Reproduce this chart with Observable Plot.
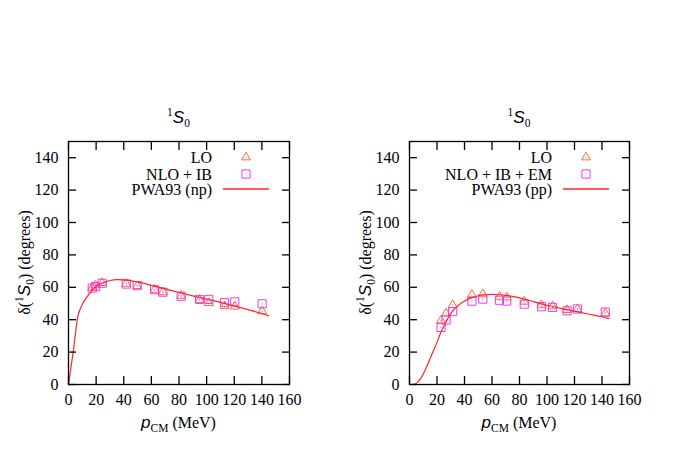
<!DOCTYPE html>
<html><head><meta charset="utf-8">
<script src="https://cdn.jsdelivr.net/npm/d3@7"></script>
<script src="https://cdn.jsdelivr.net/npm/@observablehq/plot@0.6"></script>
<style>
body{margin:0;background:#fff;}
#wrap{display:flex;width:677px;height:474px;}
#wrap svg{display:block;}
</style></head><body><div id="wrap"></div>
<script>
// ---- tick labels ----
const xTicks = [0, 20, 40, 60, 80, 100, 120, 140, 160];
const yTicks = [0, 20, 40, 60, 80, 100, 120, 140];

// ---- left panel (np) ----
const npX   = [17.2, 19.6, 24.4, 41.8, 49.7, 62.3, 68.3, 81.6, 94.9, 101.6, 113.0, 120.4, 140.2];
const npLO  = [59.8, 61.3, 62.7, 62.2, 60.8, 58.5, 57.0, 54.8, 52.3, 50.3, 48.4, 48.2, 45.2];
const npNLO = [59.5, 60.5, 62.5, 62.0, 61.0, 58.5, 57.0, 54.5, 52.5, 52.5, 50.5, 51.0, 49.8];
const npCurveX = [0, 2, 3.4, 5, 6.3, 8, 10, 12.5, 15, 20, 25, 30, 35, 40, 50, 60, 70, 80, 90, 100, 110, 120, 130, 140, 145];
const npCurveY = [0, 12, 20, 31, 40, 45.5, 49.5, 53, 56, 60.5, 62.8, 64.2, 64.7, 64.6, 63.3, 61.2, 59, 56.8, 54.7, 52.7, 50.7, 48.5, 46.2, 43.8, 42.4];
const npLabels = ["LO", "NLO + IB", "PWA93 (np)"];

// ---- right panel (pp) ----
const ppX   = [22.9, 26.6, 31.4, 45.4, 53.3, 65.4, 70.7, 83.5, 96.0, 104.0, 114.6, 122.1, 142.4];
const ppLO  = [39.5, 44.0, 49.0, 55.4, 55.7, 54.2, 53.8, 51.2, 49.0, 48.3, 46.0, 46.6, 44.0];
const ppNLO = [35.2, 39.8, 45.0, 51.5, 52.7, 52.0, 51.5, 49.6, 48.0, 47.6, 45.5, 46.6, 44.7];
const ppCurveX = [2, 4, 6, 8, 10, 12, 14, 16, 18, 20, 22, 25, 28, 31, 35, 40, 45, 50, 55, 60, 65, 70, 80, 90, 100, 110, 120, 130, 140, 145];
const ppCurveY = [0, 0.3, 1.5, 3.5, 6.5, 10, 14, 18, 22, 26, 30.5, 36, 41, 45, 48.5, 51.5, 53.5, 54.8, 55.4, 55.6, 55.4, 55, 53.5, 51.2, 48.9, 47, 45.3, 43.5, 41.8, 40.8];
const ppLabels = ["LO", "NLO + IB + EM", "PWA93 (pp)"];

const C_LO = "#ff6a33", C_NLO = "#ee3bee", C_LINE = "#ff2626";
const SERIF = "'Liberation Serif', 'Times New Roman', serif";
const SANS = "'Liberation Sans', Arial, sans-serif";

function addParts(text, parts) {
  for (const p of parts) {
    const ts = text.append("tspan").text(p.t);
    ts.attr("font-family", p.sans ? SANS : SERIF);
    if (p.italic) ts.attr("font-style", "italic");
    ts.attr("font-size", p.size || 16);
    if (p.dy) ts.attr("dy", p.dy);
  }
}

function panel({width, marginLeft, marginRight, xs, lo, nlo, cx, cy, labels}) {
  const loData = xs.map((x, i) => ({x, y: lo[i]}));
  const nloData = xs.map((x, i) => ({x, y: nlo[i]}));
  const curve = cx.map((x, i) => ({x, y: cy[i]}));
  const height = 474, marginTop = 141, marginBottom = 90;

  const decorations = (index, scales, values, dims) => {
    const g = d3.create("svg:g");
    const left = dims.marginLeft, right = dims.width - dims.marginRight;
    const top = dims.marginTop, bottom = dims.height - dims.marginBottom;
    const mid = (left + right) / 2;
    // title
    const title = g.append("text").attr("x", mid).attr("y", 123).attr("text-anchor", "middle").attr("fill", "black");
    addParts(title, [{t: "1", size: 11.5, dy: -7}, {t: "S", sans: true, italic: true, size: 17, dy: 7}, {t: "0", size: 11.5, dy: 4}]);
    // x label
    const xl = g.append("text").attr("x", mid).attr("y", 428).attr("text-anchor", "middle").attr("fill", "black");
    addParts(xl, [{t: "p", sans: true, italic: true, size: 17}, {t: "CM", size: 11.5, dy: 4}, {t: " (MeV)", dy: -4}]);
    // y label
    const yl = g.append("text").attr("transform", `translate(${left - 38},${(top + bottom) / 2}) rotate(-90)`)
      .attr("text-anchor", "middle").attr("fill", "black");
    addParts(yl, [{t: "δ("}, {t: "1", size: 11.5, dy: -7}, {t: "S", sans: true, italic: true, size: 17, dy: 7}, {t: "0", size: 11.5, dy: 4}, {t: ") (degrees)", dy: -4}]);
    // legend
    const rowY = [top + 16.3, top + 33, top + 48];
    labels.forEach((lab, i) => {
      g.append("text").attr("x", right - 77).attr("y", rowY[i] + 5.5).attr("text-anchor", "end")
        .attr("font-family", SERIF).attr("font-size", 16).attr("fill", "black").text(lab);
    });
    const sx = right - 43;
    g.append("path").attr("transform", `translate(${sx},${rowY[0]})`)
      .attr("d", d3.symbol(d3.symbolTriangle, Math.PI * 3.3 * 3.3)())
      .attr("style", `fill:none;stroke:${C_LO};stroke-width:1`);
    g.append("circle").attr("cx", sx).attr("cy", rowY[0]).attr("r", 0.6).attr("style", `fill:${C_LO};stroke:none`);
    g.append("path").attr("transform", `translate(${sx},${rowY[1]})`)
      .attr("d", d3.symbol(d3.symbolSquare, Math.PI * 4.6 * 4.6)())
      .attr("style", `fill:none;stroke:${C_NLO};stroke-width:1`);
    g.append("circle").attr("cx", sx).attr("cy", rowY[1]).attr("r", 0.6).attr("style", `fill:${C_NLO};stroke:none`);
    g.append("path").attr("d", `M${right - 66},${rowY[2]}H${right - 20}`)
      .attr("style", `fill:none;stroke:${C_LINE};stroke-width:1.6`);
    return g.node();
  };

  return Plot.plot({
    width, height, marginLeft, marginRight, marginTop, marginBottom,
    style: {fontFamily: SERIF, fontSize: "16px", background: "white", overflow: "visible", color: "black"},
    x: {domain: [0, 160]},
    y: {domain: [0, 150]},
    marks: [
      Plot.dot(loData, {x: "x", y: "y", symbol: "triangle", r: 3.3, stroke: C_LO, strokeWidth: 1}),
      Plot.dot(loData, {x: "x", y: "y", r: 0.6, fill: C_LO, stroke: null}),
      Plot.dot(nloData, {x: "x", y: "y", symbol: "square", r: 4.6, stroke: C_NLO, strokeWidth: 1}),
      Plot.dot(nloData, {x: "x", y: "y", r: 0.6, fill: C_NLO, stroke: null}),
      Plot.line(curve, {x: "x", y: "y", stroke: C_LINE, strokeWidth: 1.2, curve: "monotone-x"}),
      Plot.frame({stroke: "black", strokeWidth: 1.3}),
      Plot.axisX({anchor: "bottom", ticks: xTicks, tickSize: -8, tickPadding: 17, label: null, strokeWidth: 1.3, fontSize: 16}),
      Plot.axisX({anchor: "top", ticks: xTicks, tickSize: -8, label: null, tickFormat: () => "", strokeWidth: 1.3}),
      Plot.axisY({anchor: "left", ticks: yTicks, tickSize: -8, tickPadding: 18, label: null, strokeWidth: 1.3, fontSize: 16}),
      Plot.axisY({anchor: "right", ticks: yTicks, tickSize: -8, label: null, tickFormat: () => "", strokeWidth: 1.3}),
      decorations
    ]
  });
}

const wrap = document.getElementById("wrap");
wrap.append(panel({width: 338, marginLeft: 68, marginRight: 49, xs: npX, lo: npLO, nlo: npNLO, cx: npCurveX, cy: npCurveY, labels: npLabels}));
wrap.append(panel({width: 339, marginLeft: 71, marginRight: 48, xs: ppX, lo: ppLO, nlo: ppNLO, cx: ppCurveX, cy: ppCurveY, labels: ppLabels}));
</script></body></html>
